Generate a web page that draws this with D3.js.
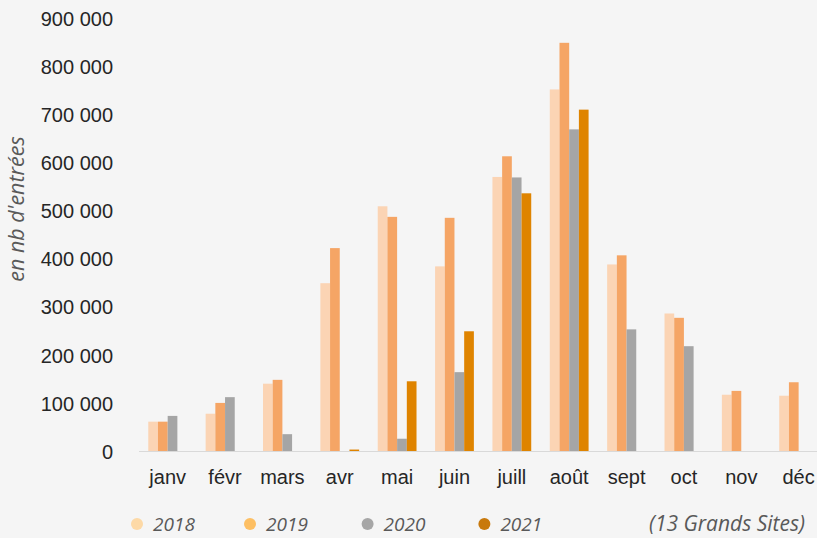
<!DOCTYPE html>
<html>
<head>
<meta charset="utf-8">
<script src="https://cdn.jsdelivr.net/npm/d3@7"></script>
<style>
  html, body { margin: 0; padding: 0; background: #f5f5f5; }
  svg { display: block; }
</style>
</head>
<body>
<script>
const months = ["janv", "févr", "mars", "avr", "mai", "juin", "juill", "août", "sept", "oct", "nov", "déc"];
const years = ["2018", "2019", "2020", "2021"];
const values2018 = [61000, 77500, 140000, 349000, 509000, 384000, 570000, 752000, 388000, 286000, 117000, 115000];
const values2019 = [61000, 100000, 148000, 422000, 487000, 485000, 613000, 849000, 407000, 277000, 125000, 143000];
const values2020 = [73000, 112000, 35000, 0, 25500, 164000, 569000, 669000, 253000, 218000, null, null];
const values2021 = [null, null, null, 3000, 145000, 249000, 536000, 710000, null, null, null, null];
const yTicks = [0, 100000, 200000, 300000, 400000, 500000, 600000, 700000, 800000, 900000];
const barColors = ["#fbd4b4", "#f5a565", "#a5a5a5", "#df8400"];
const legendColors = ["#fdd9a6", "#fdbf63", "#a6a6a6", "#c8790c"];
const yTitle = "en nb d'entrées";
const note = "(13 Grands Sites)";

const series = [values2018, values2019, values2020, values2021];

const W = 817, H = 538;
const svg = d3.select("body").append("svg").attr("width", W).attr("height", H);
svg.append("rect").attr("width", W).attr("height", H).attr("fill", "#f5f5f5");

const y = d3.scaleLinear().domain([0, 900000]).range([451, 18.3]);
const p = 0.3236;
const x = d3.scaleBand().domain(months).range([139, 827.3]).paddingInner(p).paddingOuter(p / 2);
const xs = d3.scaleBand().domain(years).range([0, x.bandwidth()]);

// y axis labels
const fmt = v => d3.format(",")(v).replace(/,/g, " ");
const yAxis = d3.axisLeft(y).tickValues(yTicks).tickSize(0).tickPadding(0).tickFormat(fmt);
const gy = svg.append("g").attr("transform", "translate(113,0)").call(yAxis);
gy.select(".domain").remove();
gy.selectAll("text")
  .attr("font-family", "'Liberation Sans', Arial, sans-serif")
  .attr("font-size", 20)
  .attr("fill", "#262626")
  .attr("dy", "0.36em");

// baseline
svg.append("line")
  .attr("x1", 139).attr("x2", W)
  .attr("y1", y(0) + 0.5).attr("y2", y(0) + 0.5)
  .attr("stroke", "#d9d9d9").attr("stroke-width", 1.2);

// bars
const groups = svg.append("g").selectAll("g")
  .data(months)
  .join("g")
  .attr("transform", d => `translate(${x(d)},0)`);

groups.selectAll("rect")
  .data((m, i) => years.map((yr, k) => ({ yr, k, v: series[k][i] })).filter(d => d.v !== null && d.v > 0))
  .join("rect")
  .attr("x", d => xs(d.yr))
  .attr("width", xs.bandwidth())
  .attr("y", d => y(d.v))
  .attr("height", d => y(0) - y(d.v))
  .attr("fill", d => barColors[d.k]);

// x axis labels
const xAxis = d3.axisBottom(x).tickSize(0).tickPadding(0);
const gx = svg.append("g").call(xAxis);
gx.select(".domain").remove();
gx.selectAll("text")
  .attr("font-family", "'Liberation Sans', Arial, sans-serif")
  .attr("font-size", 20)
  .attr("fill", "#262626")
  .attr("y", 484)
  .attr("dy", 0);

// y title
svg.append("text")
  .attr("transform", "translate(24,209) rotate(-90)")
  .attr("text-anchor", "middle")
  .attr("font-family", "'Open Sans', sans-serif")
  .attr("font-style", "italic")
  .attr("font-size", 21.5)
  .attr("fill", "#595959")
  .text(yTitle);

// legend
const legendX = [137, 250, 367.6, 484.4];
const lg = svg.append("g").selectAll("g").data(years).join("g")
  .attr("transform", (d, i) => `translate(${legendX[i]},524)`);
lg.append("circle").attr("r", 6).attr("fill", (d, i) => legendColors[i]);
lg.append("text")
  .attr("x", 16).attr("y", 7)
  .attr("font-family", "'Open Sans', sans-serif")
  .attr("font-style", "italic")
  .attr("font-size", 19)
  .attr("fill", "#595959")
  .text(d => d);

svg.append("text")
  .attr("x", 805).attr("y", 531)
  .attr("text-anchor", "end")
  .attr("font-family", "'Open Sans', sans-serif")
  .attr("font-style", "italic")
  .attr("font-size", 21)
  .attr("fill", "#595959")
  .text(note);
</script>
</body>
</html>
